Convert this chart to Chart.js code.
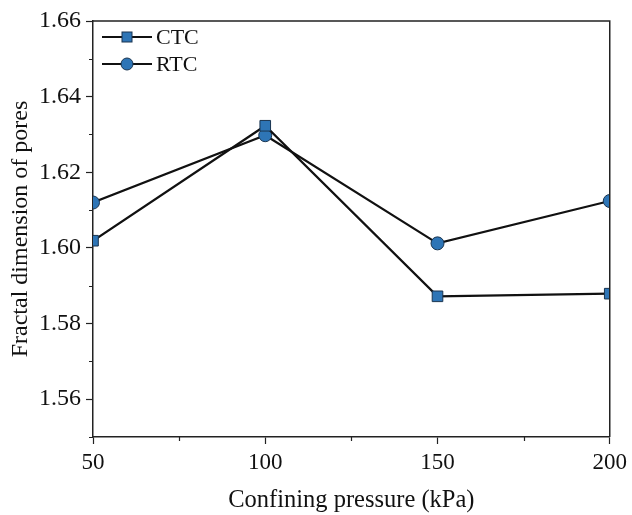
<!DOCTYPE html>
<html>
<head>
<meta charset="utf-8">
<script src="https://cdn.jsdelivr.net/npm/chart.js@4.4.1/dist/chart.umd.min.js"></script>
<style>
  html, body { margin: 0; padding: 0; background: #fff; }
  #wrap { width: 632px; height: 515px; }
</style>
</head>
<body>
<div id="wrap"><canvas id="chart1"></canvas></div>
<script>
const pressures = [50, 100, 150, 200];
const ctcValues = [1.6019, 1.6323, 1.5872, 1.5879];
const rtcValues = [1.6120, 1.6298, 1.6012, 1.6124];
const xTicks = [50, 75, 100, 125, 150, 175, 200];
const yTicks = [1.55, 1.56, 1.57, 1.58, 1.59, 1.60, 1.61, 1.62, 1.63, 1.64, 1.65, 1.66];

const FONT = '"Liberation Serif", "Times New Roman", serif';
const INK = '#222';
const BLUE = '#2e75b6';

function isMajorX(v) { return v % 50 === 0; }
function isMajorY(v) { return Math.round(v * 100) % 2 === 0 && Math.abs(v - 1.55) > 1e-6; }

// frame on top/right plus short minor ticks, and a legend with line-marker-line samples
const decor = {
  id: 'decor',
  afterDraw(chart) {
    const c = chart.ctx, a = chart.chartArea;
    const xs = chart.scales.x, ys = chart.scales.y;
    c.save();
    c.strokeStyle = INK;
    c.lineWidth = 1.5;
    c.beginPath();
    c.moveTo(a.left, a.top); c.lineTo(a.right, a.top); c.lineTo(a.right, a.bottom);
    c.stroke();

    c.lineWidth = 1.2;
    c.beginPath();
    xTicks.filter(v => !isMajorX(v)).forEach(v => {
      const px = Math.round(xs.getPixelForValue(v)) + 0.5;
      c.moveTo(px, a.bottom); c.lineTo(px, a.bottom + 4);
    });
    yTicks.filter(v => !isMajorY(v)).forEach(v => {
      const py = Math.round(ys.getPixelForValue(v)) + 0.5;
      c.moveTo(a.left, py); c.lineTo(a.left - 4, py);
    });
    c.stroke();

    // legend
    const rows = chart.data.datasets;
    rows.forEach((ds, i) => {
      const y = a.top + 16 + i * 27;
      const x0 = a.left + 9;
      c.strokeStyle = '#111';
      c.lineWidth = 2;
      c.beginPath();
      c.moveTo(x0, y); c.lineTo(x0 + 50, y);
      c.stroke();
      c.fillStyle = BLUE;
      c.strokeStyle = '#1a3550';
      c.lineWidth = 1;
      const mx = x0 + 25;
      if (ds.pointStyle === 'rect') {
        c.fillRect(mx - 5, y - 5, 10, 10);
        c.strokeRect(mx - 5, y - 5, 10, 10);
      } else {
        c.beginPath();
        c.arc(mx, y, 6, 0, Math.PI * 2);
        c.fill(); c.stroke();
      }
      c.fillStyle = '#111';
      c.font = '22px ' + FONT;
      c.textBaseline = 'middle';
      c.textAlign = 'left';
      c.fillText(ds.label, x0 + 54, y + 1);
    });
    c.restore();
  }
};

new Chart(document.getElementById('chart1'), {
  type: 'line',
  data: {
    datasets: [{
      label: 'CTC',
      data: pressures.map((p, i) => ({ x: p, y: ctcValues[i] })),
      clip: 0,
      borderColor: '#111',
      borderWidth: 2.2,
      pointStyle: 'rect',
      pointRadius: 7.5,
      pointBackgroundColor: BLUE,
      pointBorderColor: '#1a3550',
      pointBorderWidth: 1
    }, {
      label: 'RTC',
      data: pressures.map((p, i) => ({ x: p, y: rtcValues[i] })),
      clip: 0,
      borderColor: '#111',
      borderWidth: 2.2,
      pointStyle: 'circle',
      pointRadius: 6.5,
      pointBackgroundColor: BLUE,
      pointBorderColor: '#1a3550',
      pointBorderWidth: 1
    }]
  },
  options: {
    responsive: true,
    maintainAspectRatio: false,
    animation: false,
    layout: { padding: { left: 6, top: 21, right: 20, bottom: 0 } },
    plugins: {
      legend: { display: false },
      tooltip: { enabled: false }
    },
    scales: {
      x: {
        type: 'linear',
        min: 50,
        max: 200,
        afterBuildTicks: s => { s.ticks = xTicks.map(v => ({ value: v })); },
        afterFit: s => { s.height = 78; },
        border: { display: true, color: INK, width: 1.5 },
        grid: {
          drawOnChartArea: false,
          tickLength: 7,
          tickWidth: 1.2,
          tickColor: ctx => isMajorX(ctx.tick.value) ? INK : 'rgba(0,0,0,0)'
        },
        ticks: {
          color: '#111',
          font: { family: FONT, size: 23 },
          padding: 5,
          maxRotation: 0,
          autoSkip: false,
          callback: v => isMajorX(v) ? String(v) : ''
        },
        title: {
          display: true,
          text: 'Confining pressure (kPa)',
          color: '#111',
          font: { family: FONT, size: 24.5 },
          padding: { top: 6, bottom: 0 }
        }
      },
      y: {
        min: 1.55,
        max: 1.66,
        afterBuildTicks: s => { s.ticks = yTicks.map(v => ({ value: v })); },
        afterFit: s => { s.width = 87; },
        border: { display: true, color: INK, width: 1.5 },
        grid: {
          drawOnChartArea: false,
          tickLength: 7,
          tickWidth: 1.2,
          tickColor: ctx => isMajorY(ctx.tick.value) ? INK : 'rgba(0,0,0,0)'
        },
        ticks: {
          color: '#111',
          font: { family: FONT, size: 24 },
          padding: 5,
          autoSkip: false,
          callback: v => isMajorY(v) ? v.toFixed(2) : ''
        },
        title: {
          display: true,
          text: 'Fractal dimension of pores',
          color: '#111',
          font: { family: FONT, size: 24 },
          padding: { top: 0, bottom: 0 }
        }
      }
    }
  },
  plugins: [decor]
});
</script>
</body>
</html>
